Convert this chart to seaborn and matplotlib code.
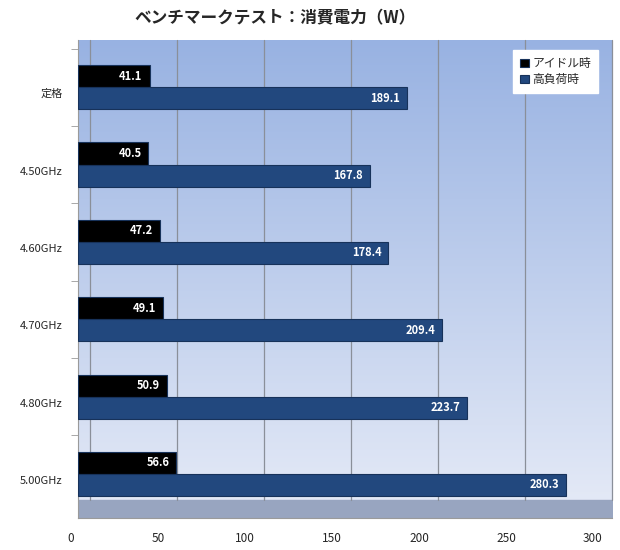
import numpy as np
import pandas as pd
import matplotlib.pyplot as plt
import seaborn as sns
from matplotlib.transforms import ScaledTranslation

sns.set_style("white")
plt.rcParams['font.family'] = ['Noto Sans CJK JP', 'DejaVu Sans']

categories = ['定格', '4.50GHz', '4.60GHz', '4.70GHz', '4.80GHz', '5.00GHz']
idle = [41.1, 40.5, 47.2, 49.1, 50.9, 56.6]
load = [189.1, 167.8, 178.4, 209.4, 223.7, 280.3]
series = ['アイドル時', '高負荷時']
xticks = [0, 50, 100, 150, 200, 250, 300]

d = pd.DataFrame({
    'cat': categories * 2,
    'val': idle + load,
    'series': [series[0]] * len(idle) + [series[1]] * len(load),
})

W, H = 620, 550
fig = plt.figure(figsize=(6.2, 5.5), dpi=100)
ax = fig.add_axes([78 / W, 1 - 518 / H, (612 - 78) / W, (518 - 40) / H])

# background gradient (darker at top)
top = np.array([152, 178, 226]) / 255
bot = np.array([230, 235, 247]) / 255
t = np.linspace(0, 1, 256)[:, None]
grad = (top * (1 - t) + bot * t)[:, None, :]
ax.imshow(grad, extent=[0, 1, 0, 1], transform=ax.transAxes, aspect='auto', zorder=0)
# floor band
ax.fill_between([0, 1], 0, 0.038, transform=ax.transAxes, color='#98a5c0', zorder=0.5)

# gridlines on the back wall (shifted right like the 3d original)
shift = ScaledTranslation(0.12, 0, fig.dpi_scale_trans)
for v in xticks:
    ax.plot([v, v], [0.038, 1], color='#8a8f99', linewidth=0.9, zorder=1,
            transform=ax.get_xaxis_transform() + shift, clip_on=False)

sns.barplot(data=d, y='cat', x='val', hue='series', orient='h',
            palette=['#000000', '#22487e'], width=0.57, saturation=1,
            ax=ax, zorder=3, edgecolor='#17325a', linewidth=0.8)

ax.set_xlim(0, 300 * (612 - 78) / (600 - 78))
ax.set_ylim(5.57, -0.61)
ax.set_xticks(xticks)
ax.set_xticklabels([str(v) for v in xticks], fontsize=8.5)
ax.set_yticks(np.arange(len(categories)) - 0.5, minor=True)
ax.tick_params(axis='x', length=0, pad=10)
ax.tick_params(axis='y', which='major', length=0, pad=11, labelsize=8)
ax.tick_params(axis='y', which='minor', length=5, color='#9a9a9a', direction='out', left=True)
ax.set_xlabel('')
ax.set_ylabel('')
for s in ['top', 'right']:
    ax.spines[s].set_visible(False)
ax.spines['left'].set_color('#9a9a9a')
ax.spines['bottom'].set_color('#9a9a9a')

for lab in ax.get_yticklabels():
    lab.set_transform(lab.get_transform() + ScaledTranslation(0, -0.06, fig.dpi_scale_trans))
for lab in ax.get_xticklabels():
    lab.set_transform(lab.get_transform() + ScaledTranslation(-0.07, 0, fig.dpi_scale_trans))

for cont in ax.containers:
    for bar in cont:
        w = bar.get_width()
        ax.annotate(f'{w:.1f}', (w, bar.get_y() + bar.get_height() / 2),
                    xytext=(-5, 0), textcoords='offset points',
                    ha='right', va='center', color='white',
                    fontsize=8, fontweight='bold', zorder=5)

leg = ax.legend(loc='upper right', bbox_to_anchor=(0.985, 0.992), frameon=True,
                fancybox=False, fontsize=8.5, handlelength=0.7, handleheight=0.7,
                handletextpad=0.3, labelspacing=0.3, borderpad=0.6)
leg.get_frame().set_facecolor('white')
leg.get_frame().set_edgecolor('white')
leg.get_frame().set_alpha(1)

fig.text(275 / W, 1 - 18 / H, 'ベンチマークテスト：消費電力（W）',
         ha='center', va='center', fontsize=12, fontweight='bold')

fig.savefig('out.png', dpi=100)
